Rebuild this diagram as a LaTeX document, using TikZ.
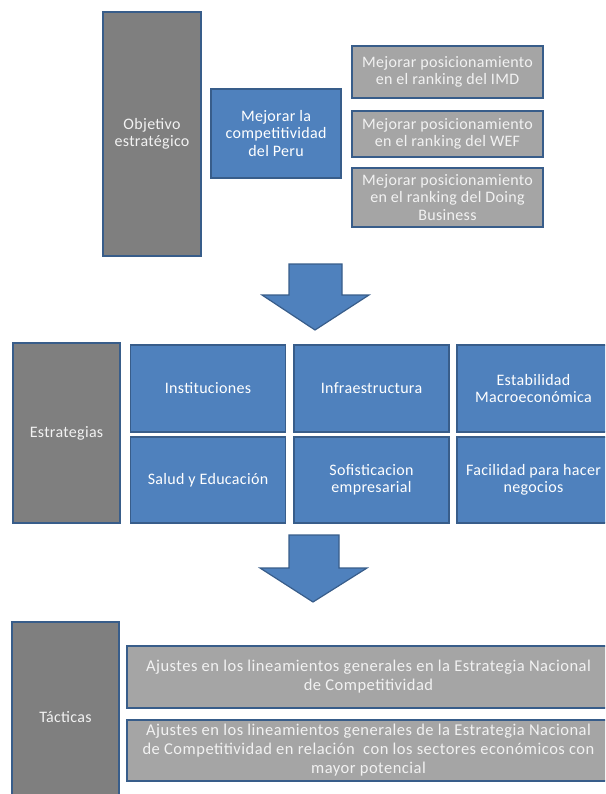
\documentclass[tikz,border=0pt]{standalone}
\usepackage{fontspec}
\setmainfont{Carlito}[LetterSpace=2]
\newfontfamily\widefont{Carlito}[LetterSpace=3]
\definecolor{ofblue}{HTML}{4F81BD}
\definecolor{ofline}{HTML}{385D8A}
\definecolor{ofdark}{HTML}{7F7F7F}
\definecolor{oflight}{HTML}{A5A5A5}
\definecolor{oftext}{HTML}{F2F2F2}

\begin{document}
\begin{tikzpicture}[x=1pt,y=-1pt]
    \tikzstyle{box}=[draw=ofline,line width=1.4pt,align=center,inner sep=2pt,
        text=oftext,font=\fontsize{16}{17.5}\selectfont]
    \tikzstyle{level}=[box,fill=ofdark,minimum width=98pt]
    \tikzstyle{goal}=[box,fill=ofblue,text=white]
    \tikzstyle{rank}=[box,fill=oflight,minimum width=191pt]
    \tikzstyle{bigarrow}=[draw=ofline,line width=1.2pt,fill=ofblue]

    \useasboundingbox (0,0) rectangle (605,794);
    \clip (0,0) rectangle (605,794);

    % objetivo
    \node[level,minimum height=244pt] (obj) at (152,134) {Objetivo\\estratégico};
    \node[goal,minimum width=130pt,minimum height=89pt] (comp) at (276,133.5) {Mejorar la\\competitividad\\del Peru};
    \node[rank,minimum height=52pt] (imd) at (447.5,72) {Mejorar posicionamiento\\en el ranking del IMD};
    \node[rank,minimum height=46pt] (wef) at (447.5,134) {Mejorar posicionamiento\\en el ranking del WEF};
    \node[rank,minimum height=59pt] (doing) at (447.5,197.5) {Mejorar posicionamiento\\en el ranking del Doing\\Business};

    \draw[bigarrow] (289,264) -- (342,264) -- (342,295) -- (369,295) -- (315,330)
        -- (262,295) -- (289,295) -- cycle;

    % estrategias
    \tikzstyle{cell}=[goal,minimum width=155pt,minimum height=87pt]
    \node[level,minimum width=107pt,minimum height=180pt] (estr) at (66.5,433) {Estrategias};
    \node[cell] (inst) at (208,388.5) {Instituciones};
    \node[cell] (infra) at (371.5,388.5) {Infraestructura};
    \node[cell,minimum width=153pt] (estab) at (533.5,388.5) {Estabilidad\\Macroeconómica};
    \node[cell,minimum height=86pt] (salud) at (208,480) {Salud y Educación};
    \node[cell,minimum height=86pt] (sofis) at (371.5,480) {Sofisticacion\\empresarial};
    \node[cell,minimum width=153pt,minimum height=86pt] (facil) at (533.5,480) {Facilidad para hacer\\negocios};

    \draw[bigarrow] (289,535) -- (339,535) -- (339,568) -- (367,568) -- (313,602)
        -- (260,568) -- (289,568) -- cycle;

    % tacticas
    \tikzstyle{wide}=[rank,minimum width=483pt,font=\widefont\fontsize{16.5}{19}\selectfont]
    \node[level,minimum width=107pt,minimum height=190pt] (tact) at (65.5,717) {Tácticas};
    \node[wide,minimum height=62pt] (aj1) at (368.5,677) {Ajustes en los lineamientos generales en la Estrategia Nacional\\de Competitividad};
    \node[wide,minimum height=61pt] (aj2) at (368.5,750.5) {Ajustes en los lineamientos generales de la Estrategia Nacional\\de Competitividad en relación\ \ con los sectores económicos con\\mayor potencial};
\end{tikzpicture}
\end{document}
